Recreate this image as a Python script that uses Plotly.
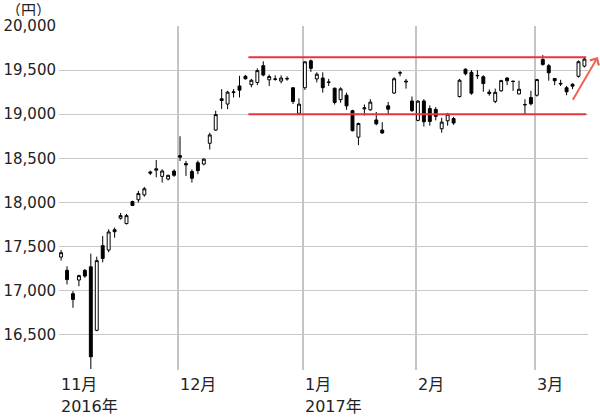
import plotly.graph_objects as go

# ---- data (Nikkei-style daily candles, trading-day index) ----
dates = ["11/1","11/2","11/4","11/7","11/8","11/9","11/10","11/11","11/14","11/15",
         "11/16","11/17","11/18","11/21","11/22","11/24","11/25","11/28","11/29","11/30",
         "12/1","12/2","12/5","12/6","12/7","12/8","12/9","12/12","12/13","12/14",
         "12/15","12/16","12/19","12/20","12/21","12/22","12/26","12/27","12/28","12/29",
         "12/30","1/4","1/5","1/6","1/10","1/11","1/12","1/13","1/16","1/17",
         "1/18","1/19","1/20","1/23","1/24","1/25","1/26","1/27","1/30","1/31",
         "2/1","2/2","2/3","2/6","2/7","2/8","2/9","2/10","2/13","2/14",
         "2/15","2/16","2/17","2/20","2/21","2/22","2/23","2/24","2/27","2/28",
         "3/1","3/2","3/3","3/6","3/7","3/8","3/9","3/10","3/13"]

open_ = [17380,17230,16965,17120,17230,17270,16550,17510,17460,17690,
         17820,17760,18010,18030,18085,18345,18365,18295,18265,18355,
         18530,18440,18350,18450,18435,18670,18820,19175,19115,19245,
         19320,19430,19335,19360,19550,19390,19400,19375,19405,19300,
         19010,19300,19605,19400,19410,19360,19295,19165,19215,19040,
         18740,19060,19050,18935,18820,19095,19240,19470,19375,19150,
         18930,19150,19065,19055,18835,18925,18950,19200,19510,19475,
         19440,19425,19250,19145,19265,19410,19375,19230,19110,19190,
         19215,19620,19550,19405,19350,19300,19340,19430,19545]
high = [17460,17275,16995,17180,17245,17420,17385,17620,17695,17715,
        17880,17870,18020,18130,18175,18360,18480,18375,18315,18375,
        18750,18470,18375,18475,18500,18790,19040,19285,19265,19285,
        19435,19445,19400,19520,19600,19450,19440,19440,19430,19305,
        19180,19600,19620,19475,19475,19400,19300,19305,19245,19050,
        18905,19110,19170,19025,18910,19140,19420,19490,19400,19200,
        19160,19170,19100,19080,18960,19015,18970,19400,19520,19500,
        19500,19440,19280,19290,19390,19420,19380,19380,19170,19265,
        19400,19670,19570,19410,19390,19320,19350,19610,19640]
low = [17340,17070,16805,17050,17145,16111,16540,17320,17435,17600,
       17805,17750,17960,18000,18065,18310,18285,18225,18250,18290,
       18470,18300,18225,18320,18420,18600,18810,19060,19057,19190,
       19190,19395,19305,19330,19430,19320,19380,19350,19380,19115,
       18990,19275,19480,19360,19245,19320,19110,19130,19050,18805,
       18650,18985,19040,18875,18780,18990,19230,19430,19290,19025,
       18920,18860,18870,18930,18790,18870,18880,19190,19440,19220,
       19400,19255,19210,19125,19255,19330,19265,19225,18995,19100,
       19200,19550,19380,19330,19320,19215,19285,19415,19530]
close = [17430,17125,16900,17170,17165,16250,17340,17365,17665,17668,
         17850,17850,17965,18100,18155,18333,18381,18356,18307,18308,
         18513,18426,18274,18360,18490,18765,18996,19155,19250,19253,
         19273,19401,19385,19494,19444,19427,19396,19410,19401,19145,
         19114,19594,19520,19454,19301,19364,19134,19287,19095,18813,
         18894,19072,19137,18891,18787,19057,19402,19467,19368,19041,
         19148,18914,18918,18976,18910,19000,18900,19385,19459,19238,
         19437,19347,19234,19248,19381,19379,19371,19283,19107,19118,
         19393,19564,19469,19379,19344,19254,19318,19595,19625]

month_start_idx = [0, 20, 41, 60, 80]
month_labels = ["11月", "12月", "1月", "2月", "3月"]
year_idx = [0, 41]
year_labels = ["2016年", "2017年"]
y_ticks = [16500, 17000, 17500, 18000, 18500, 19000, 19500, 20000]

# horizontal box lines (resistance / support) and arrow
levels = [19645, 19000]
level_span = [31.5, 88.3]
arrow_tail = (85.9, 19148)
arrow_head = (90.25, 19648)

idx = list(range(len(dates)))

fig = go.Figure()
fig.add_trace(go.Candlestick(
    x=idx, open=open_, high=high, low=low, close=close,
    increasing=dict(line=dict(color="#000000", width=1), fillcolor="#ffffff"),
    decreasing=dict(line=dict(color="#000000", width=1), fillcolor="#000000"),
    whiskerwidth=0, showlegend=False, text=dates, hoverinfo="text+y"))

for lv in levels:
    fig.add_trace(go.Scatter(x=level_span, y=[lv, lv], mode="lines",
                             line=dict(color="#e8343c", width=2),
                             showlegend=False, hoverinfo="skip", cliponaxis=False))

fig.add_annotation(x=arrow_head[0], y=arrow_head[1], ax=arrow_tail[0], ay=arrow_tail[1],
                   xref="x", yref="y", axref="x", ayref="y", text="",
                   showarrow=True, arrowhead=4, arrowsize=1, arrowwidth=2,
                   arrowcolor="#f0644f")

grid_off = 0.35
lab_font = dict(size=16, color="#222222", family="DejaVu Sans, Noto Sans CJK JP")
for i, lab in zip(month_start_idx, month_labels):
    fig.add_annotation(x=i - grid_off, y=0, xref="x", yref="paper", text=lab,
                       showarrow=False, xanchor="left", yanchor="top", yshift=-3,
                       font=lab_font)
for i, lab in zip(year_idx, year_labels):
    fig.add_annotation(x=i - grid_off, y=0, xref="x", yref="paper", text=lab,
                       showarrow=False, xanchor="left", yanchor="top", yshift=-25,
                       font=lab_font)

fig.add_annotation(x=-0.057, y=1.0727, xref="paper", yref="paper", text="（円）",
                   showarrow=False, xanchor="center", yanchor="top",
                   height=14, borderpad=0, valign="middle",
                   font=dict(size=15, color="#222222", family="Noto Sans CJK JP"))

fig.update_layout(
    width=600, height=418,
    margin=dict(l=59, r=12, t=26, b=48, autoexpand=False),
    paper_bgcolor="white", plot_bgcolor="white",
    boxgap=0.3,
    xaxis=dict(range=[-0.35, 88.6], tickvals=[i - grid_off for i in month_start_idx],
               showticklabels=False, showgrid=True, gridcolor="#c4c4c4", gridwidth=2,
               zeroline=False, showline=False, ticks="", rangeslider=dict(visible=False),
               fixedrange=True, automargin=False),
    yaxis=dict(range=[16100, 20000], tickvals=y_ticks,
               ticktext=[f"{v:,}" for v in y_ticks],
               showgrid=True, gridcolor="#c8c8c8", gridwidth=1, zeroline=False,
               showline=False, ticks="", ticklabelstandoff=2,
               tickfont=dict(size=15, color="#222222", family="DejaVu Sans"),
               fixedrange=True, automargin=False),
    font=dict(family="DejaVu Sans, Noto Sans CJK JP"),
)

fig.write_html("out.html", config={"displayModeBar": False},
               post_script="document.body.style.margin='0';document.body.style.overflow='hidden';")
